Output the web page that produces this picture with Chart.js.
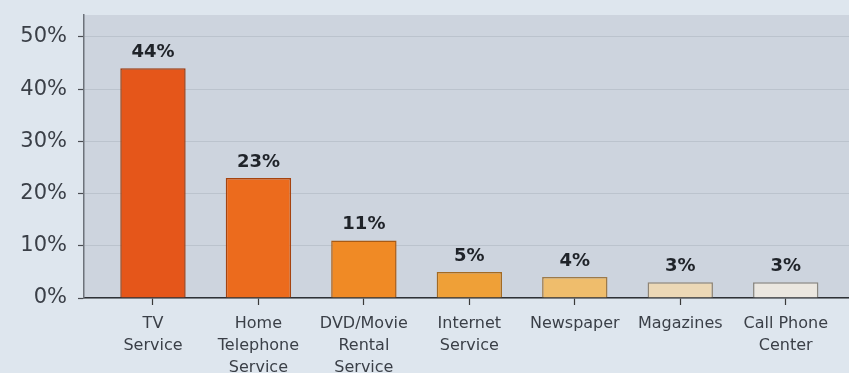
<!DOCTYPE html>
<html>
<head>
<meta charset="utf-8">
<script src="https://cdn.jsdelivr.net/npm/chart.js@4.4.1/dist/chart.umd.min.js"></script>
<style>
  html, body { margin: 0; padding: 0; background: #dee6ee; }
  #wrap { width: 849px; height: 373px; }
</style>
</head>
<body>
<div id="wrap"><canvas id="c" width="849" height="373"></canvas></div>
<script>
// ---- data ----
const categories = [
  ['TV', 'Service'],
  ['Home', 'Telephone', 'Service'],
  ['DVD/Movie', 'Rental', 'Service'],
  ['Internet', 'Service'],
  ['Newspaper'],
  ['Magazines'],
  ['Call Phone', 'Center']
];
const values = [44, 23, 11, 5, 4, 3, 3];
const yTicks = [0, 10, 20, 30, 40, 50];

// ---- styles ----
const barColors = ['#e5561a', '#ec6b1d', '#f08a25', '#efa037', '#efbd6c', '#ecd8b6', '#ebe7e0'];
const barBorders = ['#9c3a0e', '#a5430f', '#a85a14', '#a36a22', '#9c7a4a', '#8f8474', '#8a8780'];
const FONT = '"DejaVu Sans", sans-serif';

const plotBg = {
  id: 'plotBg',
  beforeDraw(chart) {
    const { ctx, chartArea: a } = chart;
    ctx.save();
    ctx.fillStyle = '#dee6ee';
    ctx.fillRect(0, 0, chart.width, chart.height);
    ctx.fillStyle = '#cdd4de';
    ctx.fillRect(a.left, a.top, a.right - a.left, a.bottom - a.top);
    ctx.restore();
  }
};

const valueLabels = {
  id: 'valueLabels',
  afterDatasetsDraw(chart) {
    const { ctx } = chart;
    const meta = chart.getDatasetMeta(0);
    ctx.save();
    ctx.font = 'bold 18px ' + FONT;
    ctx.fillStyle = '#1f2329';
    ctx.textAlign = 'center';
    ctx.textBaseline = 'bottom';
    meta.data.forEach((bar, i) => {
      ctx.fillText(values[i] + '%', bar.x, bar.y - 7);
    });
    ctx.restore();
  }
};

new Chart(document.getElementById('c'), {
  type: 'bar',
  data: {
    datasets: [{
      data: values.map((v, i) => ({ x: i, y: v })),
      backgroundColor: barColors,
      borderColor: barBorders,
      borderWidth: 1.5,
      borderSkipped: 'bottom',
      categoryPercentage: 1,
      barPercentage: 0.62
    }]
  },
  options: {
    responsive: false,
    animation: false,
    devicePixelRatio: 1,
    layout: { padding: { top: 15, right: 0, left: 0, bottom: 0 } },
    plugins: { legend: { display: false }, tooltip: { enabled: false } },
    scales: {
      x: {
        type: 'linear',
        offset: false,
        min: -0.654,
        max: 6.6,
        afterBuildTicks: (scale) => { scale.ticks = categories.map((_, i) => ({ value: i })); },
        afterFit: (scale) => { scale.height = 75; scale.paddingLeft = 0; scale.paddingRight = 0; },
        ticks: {
          autoSkip: false,
          maxRotation: 0,
          padding: 8,
          color: '#3a3f47',
          font: { family: FONT, size: 16, lineHeight: 1.38 },
          callback: (v) => categories[v]
        },
        grid: { offset: false, drawOnChartArea: false, drawTicks: true, tickLength: 7, tickColor: '#3a3a3a', tickWidth: 1.2 },
        border: { display: true, color: '#2e3136', width: 1.6 }
      },
      y: {
        min: 0,
        max: 54.2,
        afterBuildTicks: (scale) => { scale.ticks = yTicks.map(v => ({ value: v })); },
        afterFit: (scale) => { scale.width = 84; scale.paddingTop = 0; scale.paddingBottom = 0; },
        ticks: {
          padding: 11,
          color: '#3a3f47',
          font: { family: FONT, size: 21 },
          callback: (v) => v + '%'
        },
        grid: { color: 'rgba(95,105,120,0.16)', lineWidth: 1, tickLength: 6, tickColor: '#4a4d52', tickWidth: 1.2 },
        border: { display: true, color: '#6d727a', width: 1.5 }
      }
    }
  },
  plugins: [plotBg, valueLabels]
});
</script>
</body>
</html>
